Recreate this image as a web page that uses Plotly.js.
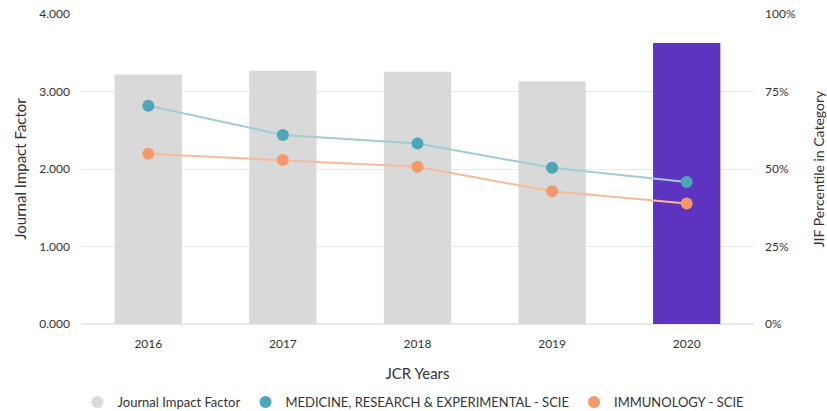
<!DOCTYPE html>
<html><head><meta charset="utf-8">
<script src="https://cdn.plot.ly/plotly-3.0.1.min.js"></script>
<style>html,body{margin:0;padding:0;background:#fff}#chart{width:827px;height:411px}</style>
</head><body><div id="chart"></div>
<script>
const years = ['2016','2017','2018','2019','2020'];
const jif = [3.219, 3.268, 3.256, 3.131, 3.626];
const medicinePct = [70.4, 61.0, 58.2, 50.4, 45.8];
const immunologyPct = [54.9, 52.9, 50.7, 42.8, 38.9];
const barColors = ['#d9d9d9','#d9d9d9','#d9d9d9','#d9d9d9','#5e33bf'];
const names = ['Journal Impact Factor','MEDICINE, RESEARCH & EXPERIMENTAL - SCIE','IMMUNOLOGY - SCIE'];

const font = 'Lato, "Source Sans Pro", "Noto Sans", sans-serif';
const traces = [
  {type:'bar', x:years, y:jif, marker:{color:barColors}, showlegend:false, yaxis:'y', hoverinfo:'skip'},
  {type:'scatter', mode:'lines+markers', x:years, y:medicinePct, yaxis:'y2', showlegend:false,
   line:{color:'#9fcdd5', width:2}, marker:{color:'#4ba6b7', size:12}},
  {type:'scatter', mode:'lines+markers', x:years, y:immunologyPct, yaxis:'y2', showlegend:false,
   line:{color:'#f8bb9a', width:2}, marker:{color:'#f5996a', size:12}},
  {type:'scatter', mode:'markers', x:[null], y:[null], name:names[0], marker:{color:'#d9d9d9', size:12}},
  {type:'scatter', mode:'markers', x:[null], y:[null], name:names[1], marker:{color:'#4ba6b7', size:12}},
  {type:'scatter', mode:'markers', x:[null], y:[null], name:names[2], marker:{color:'#f5996a', size:12}}
];
const layout = {
  width:827, height:411,
  margin:{l:81, r:73, t:14, b:87, autoexpand:false},
  paper_bgcolor:'#fff', plot_bgcolor:'#fff',
  font:{family:font, size:12, color:'#333'},
  bargap:0.5,
  xaxis:{type:'category', showgrid:false, zeroline:false, showline:false, ticks:'',
    tickfont:{size:12, color:'#333'}, ticklabelstandoff:11,
    title:{text:'JCR Years', font:{size:15, color:'#333'}, standoff:18}},
  yaxis:{range:[0,4], dtick:1, tickformat:'.3f', gridcolor:'#e8e8e8', gridwidth:1, zeroline:true, zerolinecolor:'#e8e8e8', zerolinewidth:2,
    tickfont:{size:12, color:'#333'}, ticks:'', ticklabelstandoff:10,
    title:{text:'Journal Impact Factor', font:{size:15, color:'#333'}, standoff:9}},
  yaxis2:{range:[0,100], dtick:25, ticksuffix:'%', overlaying:'y', side:'right', showgrid:false, zeroline:false,
    tickfont:{size:12, color:'#333'}, ticks:'', ticklabelstandoff:10,
    title:{text:'JIF Percentile in Category', font:{size:14, color:'#333'}, standoff:22}},
  legend:{orientation:'h', x:0.5, xanchor:'center', xref:'container', yref:'container', y:0.022, yanchor:'middle',
    font:{size:13, color:'#333'}, itemclick:false},
  showlegend:true
};
Plotly.newPlot('chart', traces, layout, {displayModeBar:false, staticPlot:true});
</script></body></html>
